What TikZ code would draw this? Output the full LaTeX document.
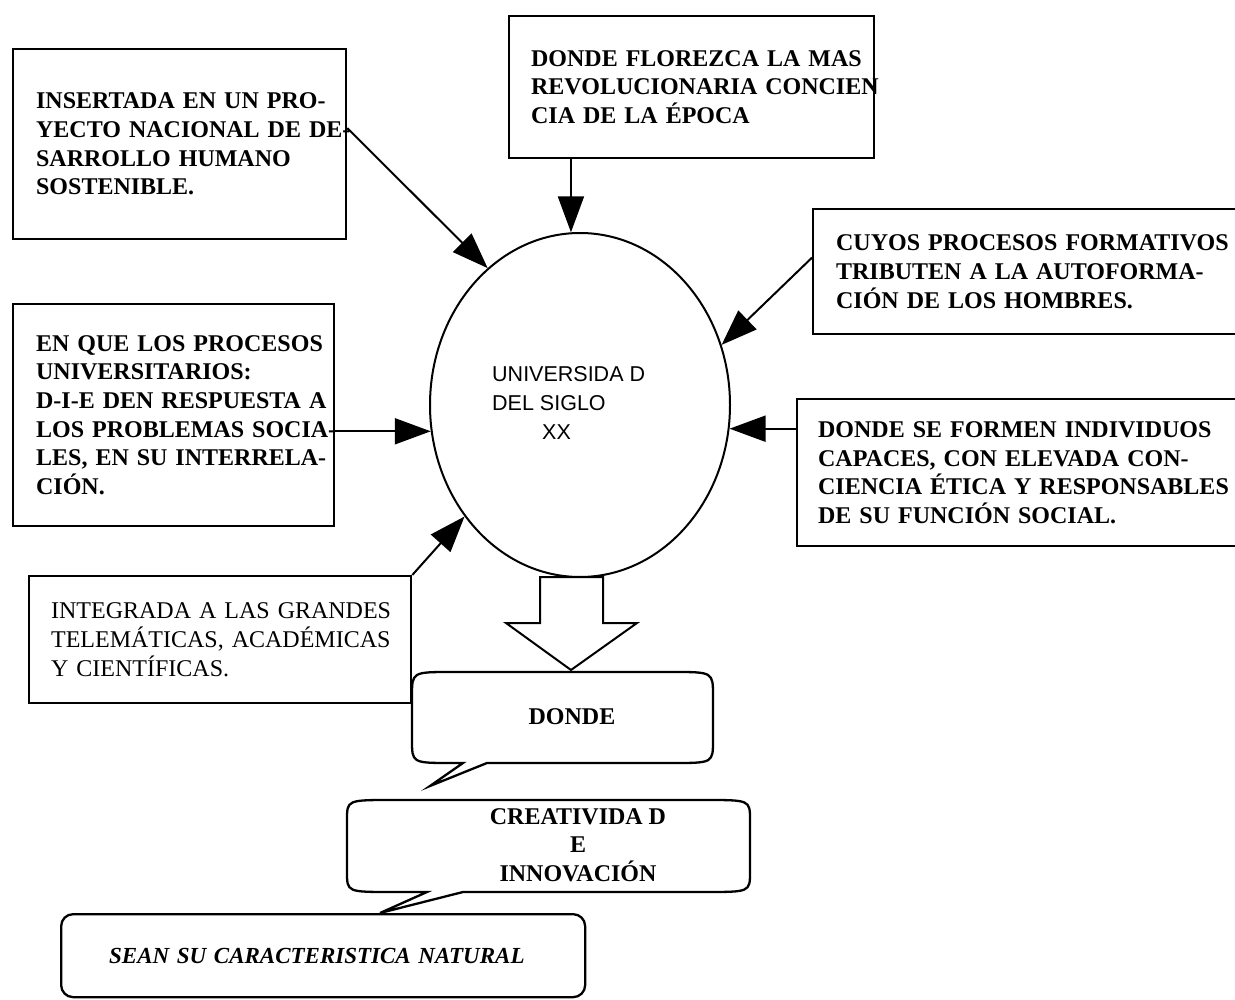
\documentclass[tikz,border=0pt]{standalone}
\usepackage{fontspec}
\setmainfont{Liberation Serif}
\newfontfamily\sansf{Liberation Sans}
\usetikzlibrary{arrows.meta,shapes.geometric}
\newcommand\boxline[1]{\mbox{#1}}
\begin{document}
\begin{tikzpicture}[x=1pt,y=-1pt,
  boxfont/.style={font=\fontsize{24}{28.7}\selectfont\bfseries},
  box/.style={draw, line width=2.3pt, anchor=north west, align=left, inner ysep=0pt, boxfont},
  arr/.style={line width=2pt, -{Triangle[length=36pt,width=26pt]}},
  shp/.style={line width=2.3pt}]
\useasboundingbox (0,0) rectangle (1235,1000);

% central ellipse
\node[draw, ellipse, line width=2pt, minimum width=300pt, minimum height=344pt, inner sep=0pt] (uni) at (580,405) {};
\node[font=\sansf\fontsize{21.5}{29}\selectfont, align=left, anchor=north west, inner sep=0pt] (unitext) at (492,366) {UNIVERSIDA D\\DEL SIGLO\\\hspace*{50pt}XX};

% boxes
\node[box, inner xsep=23pt, text width=287pt, minimum height=190pt] (b1) at (12,48)
  {\boxline{INSERTADA EN UN PRO-}\\\boxline{YECTO NACIONAL DE DE-}\\\boxline{SARROLLO HUMANO}\\\boxline{SOSTENIBLE.}};
\node[box, inner xsep=22pt, text width=321pt, minimum height=142pt] (b2) at (508,15)
  {\boxline{DONDE FLOREZCA LA MAS}\\\boxline{REVOLUCIONARIA CONCIEN}\\\boxline{CIA DE LA ÉPOCA}};
\node[box, inner xsep=23pt, text width=382pt, minimum height=125pt] (b3) at (812,208)
  {\boxline{CUYOS PROCESOS FORMATIVOS}\\\boxline{TRIBUTEN A LA AUTOFORMA-}\\\boxline{CIÓN DE LOS HOMBRES.}};
\node[box, inner xsep=21pt, text width=402pt, minimum height=147pt] (b4) at (796,398)
  {\boxline{DONDE SE FORMEN INDIVIDUOS}\\\boxline{CAPACES, CON ELEVADA CON-}\\\boxline{CIENCIA ÉTICA Y RESPONSABLES}\\\boxline{DE SU FUNCIÓN SOCIAL.}};
\node[box, inner xsep=23pt, text width=275pt, minimum height=222pt] (b5) at (12,303)
  {\boxline{EN QUE LOS PROCESOS}\\\boxline{UNIVERSITARIOS:}\\\boxline{D-I-E DEN RESPUESTA A}\\\boxline{LOS PROBLEMAS SOCIA-}\\\boxline{LES, EN SU INTERRELA-}\\\boxline{CIÓN.}};
\node[box, inner xsep=22pt, text width=338pt, minimum height=127pt, font=\fontsize{24}{28.7}\selectfont\mdseries] (b6) at (28,575)
  {\boxline{INTEGRADA A LAS GRANDES}\\\boxline{TELEMÁTICAS, ACADÉMICAS}\\\boxline{Y CIENTÍFICAS.}};

% connectors
\draw[arr] ([yshift=16pt]b1.east) -- (uni.124);
\draw[arr] (b2.south -| uni.93) -- (uni.93);
\draw[arr] ([yshift=14pt]b3.west) -- (uni.23);
\draw[arr] (b4.west |- uni.-9) -- (uni.-9);
\draw[arr] (b5.east |- uni.190) -- (uni.190);
\draw[arr] (b6.north east) -- (uni.224);

% block arrow
\draw[shp, line width=2pt] (540,577) -- (540,623) -- (506,623) -- (571,670) -- (637,623) -- (603,623) -- (603,577) -- cycle;

% callout DONDE
\draw[shp] (487,763) -- (673,763) .. controls (713,763) .. (713,740) -- (713,696) .. controls (713,672) .. (673,672)
  -- (452,672) .. controls (412,672) .. (412,696) -- (412,740) .. controls (412,763) .. (452,763) -- (463,763) -- (430,786) -- cycle;
\node[boxfont] (donde) at (572,717) {DONDE};

% callout CREATIVIDAD
\draw[shp] (463,892) -- (705,892) .. controls (750,892) .. (750,872) -- (750,820) .. controls (750,800) .. (705,800)
  -- (392,800) .. controls (347,800) .. (347,820) -- (347,872) .. controls (347,892) .. (392,892) -- (427,892) -- (380,913) -- cycle;
\node[boxfont, align=center] (creat) at (578,845) {CREATIVIDA D\\E\\INNOVACIÓN};

% SEAN box
\node[draw, shp, rounded corners=12pt, anchor=north west, minimum height=83pt, text width=428pt, inner xsep=48pt, inner ysep=0pt, align=left, font=\fontsize{23}{28}\selectfont\bfseries\itshape] (sean) at (60,913) {\boxline{SEAN SU CARACTERISTICA NATURAL}};
\end{tikzpicture}
\end{document}
